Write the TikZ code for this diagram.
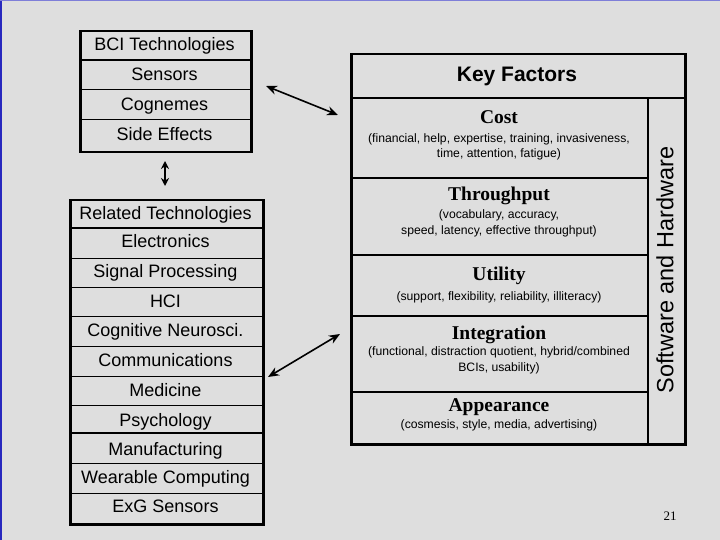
\documentclass[tikz,border=0pt]{standalone}
\usepackage{fontspec}
\setmainfont{Liberation Sans}
\newfontfamily\tms{Liberation Serif}
\usetikzlibrary{arrows.meta}
\definecolor{bg}{RGB}{222,222,222}
\definecolor{edgeblue}{RGB}{40,40,190}
\begin{document}
\begin{tikzpicture}[x=1pt,y=-1pt,
 lbl/.style={font=\fontsize{18}{20}\selectfont, inner sep=0pt, anchor=base},
 ttl/.style={font=\tms\bfseries\fontsize{19.5}{22}\selectfont, inner sep=0pt, anchor=base},
 sub/.style={font=\fontsize{12.2}{16}\selectfont, inner sep=0pt, anchor=base},
 frame/.style={draw, line width=2.5pt, inner sep=0pt, anchor=north west},
 sepA/.style={line width=2pt},
 sepB/.style={line width=1pt},
 dbl/.style={{Stealth[length=11pt,width=9pt]}-{Stealth[length=11pt,width=9pt]}, line width=1.6pt}]
\useasboundingbox (0,0) rectangle (720,540);
\fill[bg] (0,0) rectangle (720,540);
\draw[edgeblue, line width=2.5pt] (1,0) -- (1,540);
\draw[edgeblue!60, line width=1.5pt] (0,0.75) -- (720,0.75);

% BCI Technologies box
\node[frame, minimum width=171pt, minimum height=121pt] (bci) at (79,30) {};
\draw[sepA] (79,60) -- (250,60);
\draw[sepB] (79,90) -- (250,90);
\draw[sepB] (79,120) -- (250,120);
\node[lbl] (bcit) at (164.5,51) {BCI Technologies};
\node[lbl] (sens) at (164.5,81) {Sensors};
\node[lbl] (cogn) at (164.5,111) {Cognemes};
\node[lbl] (side) at (164.5,141) {Side Effects};

% Related Technologies box
\node[frame, minimum width=193pt, minimum height=324pt] (rel) at (69,199) {};
\draw[line width=2.5pt] (69,228) -- (262,228);
\foreach \yy in {258,287,316,346,376,405,463,493} \draw[sepB] (69,\yy) -- (262,\yy);
\draw[sepA] (69,433) -- (262,433);
\node[lbl] (relt) at (165.5,219.3) {Related Technologies};
\node[lbl] (elec) at (165.5,247.7) {Electronics};
\node[lbl] (sig) at (165.5,277.7) {Signal Processing};
\node[lbl] (hci) at (165.5,307.5) {HCI};
\node[lbl] (cog) at (165.5,336.7) {Cognitive Neurosci.};
\node[lbl] (com) at (165.5,366) {Communications};
\node[lbl] (med) at (165.5,396.7) {Medicine};
\node[lbl] (psy) at (165.5,426) {Psychology};
\node[lbl] (man) at (165.5,455) {Manufacturing};
\node[lbl] (wea) at (165.5,483.3) {Wearable Computing};
\node[lbl] (exg) at (165.5,512.7) {ExG Sensors};

% Key Factors box
\node[frame, minimum width=334pt, minimum height=390pt] (kf) at (350,53) {};
\draw[line width=2.5pt] (350,98) -- (684,98);
\draw[line width=1.2pt] (648,98) -- (648,443);
\foreach \yy in {178,255,316,392} \draw[sepA] (350,\yy) -- (648,\yy);
\node[font=\bfseries\fontsize{21}{22}\selectfont, inner sep=0pt, anchor=base] (kft) at (517,81.7) {Key Factors};
\node[ttl] (cost) at (499,124) {Cost};
\node[sub] (costa) at (499,142.7) {(financial, help, expertise, training, invasiveness,};
\node[sub] (costb) at (499,157.5) {time, attention, fatigue)};
\node[ttl] (thr) at (499,200.7) {Throughput};
\node[sub] (thra) at (499,218.3) {(vocabulary, accuracy,};
\node[sub] (thrb) at (499,234) {speed, latency, effective throughput)};
\node[ttl] (uti) at (499,280.7) {Utility};
\node[sub] (utia) at (499,300) {(support, flexibility, reliability, illiteracy)};
\node[ttl] (int) at (499,339) {Integration};
\node[sub] (inta) at (499,355) {(functional, distraction quotient, hybrid/combined};
\node[sub] (intb) at (499,371) {BCIs, usability)};
\node[ttl] (app) at (499,411) {Appearance};
\node[sub] (appa) at (499,428.3) {(cosmesis, style, media, advertising)};
\node[rotate=90, font=\fontsize{23.5}{24}\selectfont, inner sep=0pt, anchor=base] (sw) at (673.3,270) {Software and Hardware};

% arrows
\coordinate (a1s) at (266,86);
\coordinate (a1e) at (338,115);
\coordinate (a2s) at (165,161);
\coordinate (a2e) at (165,186);
\coordinate (a3s) at (268,377);
\coordinate (a3e) at (340,334);
\draw[dbl] (a1s) -- (a1e);
\draw[{Stealth[length=8pt,width=8pt]}-{Stealth[length=8pt,width=8pt]}, line width=1.8pt] (a2s) -- (a2e);
\draw[dbl] (a3s) -- (a3e);

\node[font=\tms\fontsize{13}{14}\selectfont, inner sep=0pt, anchor=base] (pg) at (670,520) {21};
\end{tikzpicture}
\end{document}
